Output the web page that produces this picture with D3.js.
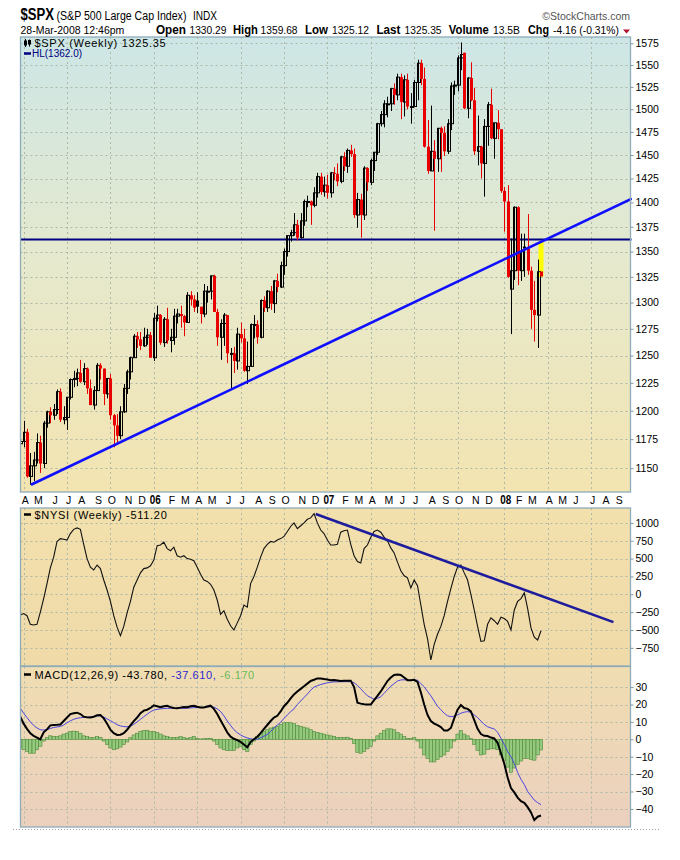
<!DOCTYPE html>
<html><head><meta charset="utf-8">
<script src="https://cdn.jsdelivr.net/npm/d3@7"></script>
<style>
body{margin:0;background:#fff}
svg{display:block;font-family:"Liberation Sans",Arial,sans-serif}
</style>
</head><body>
<svg id="c" width="680" height="860"></svg>
<script>
// ---------- DATA ----------
const firstWeek = "2005-03-28";   // weekly bars, one per week
const spxOpen = [1171,1173,1181,1143,1152,1157,1172,1154,1189,1199,
 1196,1201,1217,1192,1194,1212,1228,1229,1234,1226,
 1238,1220,1205,1218,1241,1238,1215,1229,1196,1187,
 1178,1199,1220,1235,1248,1268,1265,1259,1267,1269,
 1248,1285,1288,1262,1284,1264,1267,1287,1289,1287,
 1281,1307,1303,1302,1296,1289,1311,1311,1326,1291,
 1267,1280,1288,1252,1252,1245,1270,1266,1236,1240,
 1279,1279,1267,1302,1295,1311,1299,1321,1315,1336,
 1350,1366,1369,1377,1364,1381,1401,1401,1397,1410,
 1427,1411,1418,1410,1431,1430,1422,1448,1438,1455,
 1451,1387,1403,1387,1436,1421,1444,1453,1484,1494,
 1506,1506,1523,1516,1536,1508,1533,1503,1503,1530,
 1552,1534,1459,1433,1454,1446,1479,1474,1454,1484,
 1526,1527,1558,1564,1501,1535,1510,1454,1459,1441,
 1481,1505,1468,1485,1478,1412,1401,1313,1331,1395,
 1331,1355,1353,1331,1293,1288,1330.29];
const spxHigh = [1191,1191,1184,1163,1164,1180,1178,1191,1200,1203,
 1206,1219,1220,1204,1212,1229,1236,1238,1246,1243,
 1239,1228,1222,1243,1243,1238,1229,1233,1197,1197,
 1204,1224,1237,1249,1270,1272,1272,1276,1275,1272,
 1290,1297,1289,1286,1295,1275,1294,1294,1297,1288,
 1310,1311,1307,1310,1296,1318,1316,1326,1327,1294,
 1284,1290,1288,1257,1258,1276,1281,1275,1263,1280,
 1288,1283,1303,1306,1312,1316,1322,1328,1340,1353,
 1366,1372,1389,1382,1389,1403,1407,1402,1416,1431,
 1431,1427,1429,1432,1437,1441,1449,1453,1457,1461,
 1457,1410,1409,1438,1437,1446,1453,1485,1498,1510,
 1514,1523,1529,1540,1540,1538,1540,1518,1533,1556,
 1556,1547,1488,1504,1466,1479,1481,1481,1489,1530,
 1532,1561,1576,1564,1536,1553,1524,1493,1460,1489,
 1508,1523,1485,1499,1478,1416,1418,1363,1396,1396,
 1368,1368,1388,1335,1321,1342,1359.68];
const spxLow = [1166,1168,1142,1136,1139,1154,1146,1150,1185,1189,
 1192,1197,1190,1188,1183,1210,1221,1222,1225,1223,
 1215,1205,1201,1218,1228,1205,1211,1192,1168,1170,
 1175,1198,1215,1228,1248,1257,1255,1258,1260,1248,
 1245,1282,1260,1258,1261,1253,1260,1280,1276,1268,
 1281,1297,1291,1290,1280,1286,1300,1303,1291,1259,
 1246,1259,1243,1219,1234,1237,1262,1235,1224,1240,
 1266,1261,1266,1291,1291,1293,1290,1310,1314,1327,
 1345,1360,1366,1361,1363,1376,1395,1377,1395,1405,
 1408,1406,1404,1405,1423,1417,1420,1433,1431,1448,
 1384,1374,1364,1382,1412,1418,1433,1450,1481,1480,
 1491,1498,1505,1510,1489,1492,1500,1484,1503,1510,
 1527,1458,1430,1433,1371,1432,1432,1449,1451,1477,
 1516,1520,1544,1500,1490,1509,1450,1439,1425,1406,
 1460,1467,1446,1467,1410,1370,1324,1270,1322,1317,
 1321,1325,1327,1275,1263,1257,1325.12];
const spxClose = [1173,1181,1143,1152,1157,1172,1154,1189,1199,1196,
 1201,1217,1192,1194,1212,1228,1229,1234,1226,1238,
 1220,1205,1218,1241,1238,1215,1229,1196,1187,1178,
 1199,1220,1235,1248,1268,1265,1259,1267,1269,1248,
 1285,1288,1262,1284,1264,1267,1287,1289,1287,1281,
 1307,1303,1295,1296,1289,1311,1311,1326,1291,1267,
 1280,1288,1252,1252,1245,1270,1266,1236,1240,1279,
 1279,1267,1302,1295,1311,1299,1321,1315,1336,1350,
 1366,1369,1377,1364,1381,1401,1401,1397,1410,1427,
 1411,1418,1410,1431,1430,1422,1448,1438,1455,1451,
 1387,1403,1387,1436,1421,1444,1453,1484,1494,1506,
 1506,1523,1516,1536,1508,1533,1503,1503,1530,1552,
 1534,1459,1433,1454,1446,1479,1474,1454,1484,1526,
 1527,1558,1562,1501,1535,1510,1454,1459,1441,1481,
 1505,1468,1485,1478,1412,1401,1325,1331,1395,1331,
 1350,1353,1331,1293,1288,1330,1325.35];
const hlLevel = 1362.0;
const priceTrend = [{bar:3.2, v:1136}, {bar:183.2, v:1404}];

const nysi = [-290,-270,-300,-420,-430,-420,-250,-60,150,370,
 520,740,780,770,760,850,910,930,910,700,
 500,380,340,410,360,200,60,-100,-300,-460,
 -580,-450,-260,-100,100,200,300,360,370,400,
 480,680,690,730,640,610,660,540,520,540,
 500,490,470,380,280,200,180,140,60,-80,
 -280,-230,-350,-440,-500,-400,-300,-150,-180,150,
 250,380,520,640,700,740,730,760,780,810,
 880,950,1000,920,960,1000,1050,1070,1130,1000,
 900,850,760,690,690,700,870,890,900,700,
 540,460,440,640,690,800,880,900,870,800,
 750,650,580,450,330,260,230,90,200,120,
 -150,-420,-620,-920,-700,-560,-450,-300,-100,80,
 250,380,410,300,200,0,-220,-450,-660,-650,
 -420,-330,-370,-420,-320,-340,-380,-500,-220,-100,
 -60,20,-200,-470,-600,-640,-511.2];
const nysiTrend = [{bar:88.5, v:1125}, {bar:177.7, v:-390}];

const macdLine = [13,9,6,3.5,2,1,0,4,5.7,8,
 8.2,8.3,8.5,10.5,12.5,14.5,15,15.3,14.5,13,
 12.6,12.5,13,13.8,14,12,9,5.5,3.5,2.5,
 2.6,3.5,5.5,8,10.5,12.5,15,16.5,17,18,
 19.5,19,18.4,19,19.3,18.5,18,17.8,18.2,18.5,
 18.4,19,19.3,18.7,18.3,18.3,18.8,19.3,17.5,14.5,
 11,7.5,4,1.5,0.3,-0.5,-1.5,-3,-4.6,-1.5,
 0,1.5,3.5,6,8.2,10.5,12.5,13.5,16,19,
 21,23.5,25.8,27.5,29,30.5,32,33.5,34.2,35,
 35,34.6,34.4,34,34.1,33.8,33.5,33.6,33.7,33.7,
 30,21,20.5,20.2,20,20,22.5,25,27.5,30.5,
 33.5,35.5,37,37.2,37,35.5,34,34,34.2,33,
 27,20,14,10.5,9,8.2,7,5,5,6.5,
 12,17,19.7,18,17.5,16,11,6,3,2,
 1.9,1,0.5,-2,-8,-14,-22,-28,-30.5,-33.5,
 -35.5,-36.5,-39,-42,-46.4,-44.5,-43.78];
const macdSignal = [17.8,15,12.5,10,8,6.5,5.5,5.3,5.6,6.2,
 6.8,7.1,7.4,8.2,9.5,10.6,11.5,12.1,12.4,12.6,
 12.7,12.8,13.1,13.4,13.5,12.8,11.7,10.7,9.6,8.4,
 7.7,7.3,7.2,7.5,8.6,10,11.5,13,14.4,15.8,
 16.8,17.2,17.5,17.7,17.8,17.8,17.8,17.8,17.8,17.8,
 17.9,18,18.2,18.2,18.2,18.3,18.5,18.8,18.5,17.5,
 16,13.5,10.5,8,5.5,3.8,2.5,1.5,0.8,0.3,
 0,0,0.8,1.8,2.8,4.5,6.5,8.2,9.8,12,
 14,15.9,17.5,20,22,24,26,28.2,30,30.8,
 31.5,32,32.5,32.8,33,33,33.1,33.1,33.1,33.1,
 32.5,31,29,27,25,24,23,23.5,24.5,26.4,
 28.5,30.5,32,33.5,34.1,34.2,34,33.7,34,34,
 32,30.2,27.5,25,22,19,17,15,13.5,13,
 13.3,14,15,15.6,15.9,15.5,14,12.5,10.5,8.5,
 7.2,6.5,6,4,0.6,-3,-7,-10,-14,-19,
 -23,-26,-30,-32.5,-35,-36.4,-37.61];
const macdHist = [-5,-6,-7,-8,-8,-6,-4,-1,1,2,
 1.5,1.5,2,3,3.5,4.5,4.7,4.5,3.5,2,
 1.5,1,1,1.5,1,-1,-3,-5,-6,-5.5,
 -4.5,-3,-1.5,1,2.5,3.5,4.5,5,5.2,4.5,
 4.5,4,3,2,1.5,1,1,1,1.5,1,
 0.6,1,1.5,0.5,0.2,0.3,0.5,0.6,-1,-3,
 -5,-6,-6.5,-6.5,-6.5,-5,-4,-6,-7,-3,
 -1,1.5,3,4.5,5.5,6.5,7,7.5,8.5,9.5,
 9.6,9.5,9,8,7.5,7,6.5,5.5,4.5,4,
 3.5,3,2.5,2,1.5,1,1,1,1.2,0.6,
 -2.5,-7.5,-8,-7,-5.5,-4,-1,2,3.5,5,
 6,6,5.5,4,3,1.5,0.5,0.5,1,-1,
 -5,-9,-11,-13,-13,-11.5,-10,-9,-7,-5,
 -1,3,5,3,2,0.5,-3,-6.5,-9,-8.5,
 -6,-5.5,-5.5,-6,-9,-12,-16,-19,-16.5,-14.5,
 -12.5,-11,-11,-11.5,-12,-9,-6.17];

const priceTicks = [1150,1175,1200,1225,1250,1275,1300,1325,1350,1375,1400,1425,1450,1475,1500,1525,1550,1575];
const nysiTicks = [1000,750,500,250,0,-250,-500,-750];
const macdTicks = [30,20,10,0,-10,-20,-30,-40];
const monthLabels = ["A","M","J","J","A","S","O","N","D","06","F","M","A","M","J","J","A","S","O","N","D","07","F","M","A","M","J","J","A","S","O","N","D","08","F","M","A","M","J","J","A","S"];
// [label, value, label x, value x, label width, value width]
const headerStats = [["Open","1330.29",156,189.5,30,37],["High","1359.68",233,260.6,25,37],
  ["Low","1325.12",305,332,23,37],["Last","1325.35",376.4,404.6,24,37],
  ["Volume","13.5B",448.8,493,40,27],["Chg","-4.16 (-0.31%)",528,553,21,66]];

// ---------- LAYOUT ----------
const svg = d3.select("#c");
const defs = svg.append("defs");
function grad(id, stops){
  const g = defs.append("linearGradient").attr("id",id).attr("x1",0).attr("y1",0).attr("x2",0).attr("y2",1);
  stops.forEach(([o,c])=>g.append("stop").attr("offset",o).attr("stop-color",c));
}
grad("gMain", [[0,"#cde6e6"],[0.5,"#e6e9cd"],[1,"#f3e4b1"]]);
grad("gNysi", [[0,"#f2e0ad"],[1,"#efdaa8"]]);
grad("gMacd", [[0,"#f0ddb1"],[1,"#ebd0be"]]);

const L = 20.5, R = 630.5;
const panels = {
  main:{t:37, b:492, fill:"url(#gMain)"},
  nysi:{t:508, b:666, fill:"url(#gNysi)"},
  macd:{t:666.5, b:827, fill:"url(#gMacd)"}
};
Object.entries(panels).forEach(([k,p])=>{
  defs.append("clipPath").attr("id","clip-"+k).append("rect")
    .attr("x",L).attr("y",p.t).attr("width",R-L+1.5).attr("height",p.b-p.t);
});

const x = d3.scaleLinear().domain([0,156]).range([20.3,541]);
const yP = d3.scaleLog().domain([1150,1575]).range([468.2,43.3]);
const yN = d3.scaleLinear().domain([-1000,1000]).range([665.7,522.9]);
const yM = d3.scaleLinear().domain([-40,30]).range([808.9,687.1]);

const start = new Date(firstWeek+"T00:00:00");
const months = monthLabels.map((lab,k)=>{
  const d = new Date(2005, 3+k, 1);
  const mon = d3.timeMonday.ceil(d);
  return {lab, bar: Math.round((mon-start)/6048e5), m: d.getMonth()};
});
const quarterly = months.filter(d=>d.m%3===0);

Object.values(panels).forEach(p=>{
  svg.append("rect").attr("x",L).attr("y",p.t).attr("width",R-L).attr("height",p.b-p.t).attr("fill",p.fill);
});

const gridCol = "#aeb8a6";
function hGrid(scale, ticks){
  svg.append("g").selectAll("line").data(ticks).join("line")
    .attr("x1",L).attr("x2",R).attr("y1",d=>Math.round(scale(d))+0.5).attr("y2",d=>Math.round(scale(d))+0.5)
    .attr("stroke",gridCol).attr("stroke-width",1).attr("stroke-dasharray","2,3");
}
function vGrid(p){
  svg.append("g").selectAll("line").data(quarterly).join("line")
    .attr("x1",d=>Math.round(x(d.bar))+0.5).attr("x2",d=>Math.round(x(d.bar))+0.5)
    .attr("y1",p.t).attr("y2",p.b)
    .attr("stroke",gridCol).attr("stroke-width",1).attr("stroke-dasharray","2,3");
}
hGrid(yP, priceTicks); vGrid(panels.main);
hGrid(yN, nysiTicks); vGrid(panels.nysi);
hGrid(yM, macdTicks); vGrid(panels.macd);

// ---------- PRICE PANEL ----------
const bars = spxClose.map((c,i)=>({i, o:spxOpen[i], h:spxHigh[i], l:spxLow[i], c,
  up: c >= (i>0 ? spxClose[i-1] : spxOpen[i]), hollow: c >= spxOpen[i]}));
const gMain = svg.append("g").attr("clip-path","url(#clip-main)");
const RED = "#e80000";
gMain.append("line").attr("x1",L).attr("x2",R+1)
  .attr("y1",yP(hlLevel)).attr("y2",yP(hlLevel)).attr("stroke","#000080").attr("stroke-width",2);
const last = bars[bars.length-1];
gMain.append("rect").attr("x",x(last.i)-2.5).attr("width",5)
  .attr("y",yP(last.h)).attr("height",yP(last.l)-yP(last.h)).attr("fill","#ffff00");
gMain.append("g").selectAll("line").data(bars.slice(0,-1)).join("line")
  .attr("x1",d=>Math.round(x(d.i))+0.5).attr("x2",d=>Math.round(x(d.i))+0.5)
  .attr("y1",d=>yP(d.h)).attr("y2",d=>yP(d.l))
  .attr("stroke",d=>d.up?"#000":RED).attr("stroke-width",1);
gMain.append("g").selectAll("rect").data(bars).join("rect")
  .attr("x",d=>Math.round(x(d.i))-1)
  .attr("width",3)
  .attr("y",d=>Math.min(yP(d.o),yP(d.c)))
  .attr("height",d=>Math.max(1,Math.abs(yP(d.o)-yP(d.c))))
  .attr("fill",d=>d.hollow?"none":(d.up?"#000":RED))
  .attr("stroke",d=>d.hollow?(d.up?"#000":RED):"none")
  .attr("stroke-width",1)
  .attr("transform",d=>d.hollow?"translate(0.5,0)":null);
gMain.append("line")
  .attr("x1",x(priceTrend[0].bar)).attr("y1",yP(priceTrend[0].v))
  .attr("x2",x(priceTrend[1].bar)).attr("y2",yP(priceTrend[1].v))
  .attr("stroke","#1010ff").attr("stroke-width",2.6);

// ---------- NYSI PANEL ----------
const gN = svg.append("g").attr("clip-path","url(#clip-nysi)");
gN.append("path").datum(nysi)
  .attr("d", d3.line().x((d,i)=>x(i)).y(d=>yN(d)))
  .attr("fill","none").attr("stroke","#111").attr("stroke-width",1.1);
gN.append("line")
  .attr("x1",x(nysiTrend[0].bar)).attr("y1",yN(nysiTrend[0].v))
  .attr("x2",x(nysiTrend[1].bar)).attr("y2",yN(nysiTrend[1].v))
  .attr("stroke","#1c1c9c").attr("stroke-width",2.6);

// ---------- MACD PANEL ----------
const gM = svg.append("g").attr("clip-path","url(#clip-macd)");
gM.append("g").selectAll("rect").data(macdHist).join("rect")
  .attr("x",(d,i)=>x(i)-1.65).attr("width",3.3)
  .attr("y",d=>Math.min(yM(0),yM(d))).attr("height",d=>Math.abs(yM(d)-yM(0)))
  .attr("fill","#95c97d").attr("stroke","#4f8a3c").attr("stroke-width",0.6);
gM.append("path").datum(macdSignal)
  .attr("d", d3.line().x((d,i)=>x(i)).y(d=>yM(d)))
  .attr("fill","none").attr("stroke","#4a44e0").attr("stroke-width",1);
gM.append("path").datum(macdLine)
  .attr("d", d3.line().x((d,i)=>x(i)).y(d=>yM(d)))
  .attr("fill","none").attr("stroke","#000").attr("stroke-width",2);

Object.values(panels).forEach(p=>{
  svg.append("rect").attr("x",L).attr("y",p.t).attr("width",R-L).attr("height",p.b-p.t)
    .attr("fill","none").attr("stroke","#8eabb9").attr("stroke-width",1.3);
});

// ---------- AXES ----------
function rightAxis(scale, ticks, fmt){
  const g = svg.append("g").attr("transform",`translate(${R},0)`)
    .call(d3.axisRight(scale).tickValues(ticks).tickSize(3).tickPadding(2).tickFormat(fmt));
  g.select(".domain").remove();
  g.selectAll(".tick line").attr("stroke","#7d97a3");
  g.selectAll("text").attr("font-size",10.5).attr("fill","#000")
    .attr("font-family",'"Liberation Sans",Arial,sans-serif');
}
rightAxis(yP, priceTicks, d3.format("d"));
rightAxis(yN, nysiTicks, d3.format("d"));
rightAxis(yM, macdTicks, d3.format("d"));

// narrow text helper: scale horizontally to a target width
function fitText(t, xx, yy, size, w, bold, fill, anchorMid){
  const el = svg.append("text").attr("font-size",size)
    .attr("font-weight",bold?"bold":"normal").attr("fill",fill||"#000").text(t);
  const nat = el.node().getComputedTextLength();
  const s = Math.min(1, w/nat);
  const x0 = anchorMid ? xx - (nat*s)/2 : xx;
  el.attr("transform",`translate(${x0},${yy}) scale(${s},1)`);
  return el;
}

months.forEach(d=>{
  if (d.m===0) fitText(d.lab, x(d.bar)+1.5, 503.5, 12.5, 11, true, "#000", true);
  else svg.append("text").attr("x",x(d.bar)+1.5).attr("y",503.5).attr("text-anchor","middle")
    .attr("font-size",10.5).text(d.lab);
});

svg.append("line").attr("x1",13).attr("x2",660).attr("y1",829.5).attr("y2",829.5)
  .attr("stroke","#9aa0a6").attr("stroke-dasharray","1,2");

// ---------- HEADER ----------
fitText("$SPX", 20.5, 19.5, 16, 33.5, true);
fitText("(S&P 500 Large Cap Index)", 56.5, 19.5, 12, 130, false);
fitText("INDX", 193, 19.5, 12, 24, false);
svg.append("text").attr("x",630).attr("y",19.5).attr("text-anchor","end").attr("font-size",10.5).attr("fill","#555").text("©StockCharts.com");
fitText("28-Mar-2008 12:46pm", 20.5, 34, 11.5, 104, false);
headerStats.forEach(([k,v,kx,vx,kw,vw])=>{
  fitText(k, kx, 34, 12, kw, true);
  fitText(v, vx, 34, 11.5, vw, false);
});
svg.append("path").attr("d","M623,29.5 L630,29.5 L626.5,33.5 Z").attr("fill","#b0102a");

// ---------- LEGENDS ----------
const ic = svg.append("g").attr("stroke","#000").attr("fill","none").attr("stroke-width",1);
ic.append("line").attr("x1",25.5).attr("x2",25.5).attr("y1",39).attr("y2",47);
ic.append("rect").attr("x",24.5).attr("y",41).attr("width",2).attr("height",4);
ic.append("line").attr("x1",29.5).attr("x2",29.5).attr("y1",39.5).attr("y2",46.5);
ic.append("rect").attr("x",28.5).attr("y",40.5).attr("width",2).attr("height",3.5).attr("fill","#000");
svg.append("text").attr("x",34.5).attr("y",47).attr("font-size",11).attr("letter-spacing",0.7).text("$SPX (Weekly) 1325.35");
svg.append("line").attr("x1",24).attr("x2",31).attr("y1",53.5).attr("y2",53.5).attr("stroke","#000080").attr("stroke-width",2.5);
svg.append("text").attr("x",32).attr("y",57).attr("font-size",10).attr("fill","#000080").text("HL(1362.0)");

svg.append("line").attr("x1",24).attr("x2",31).attr("y1",514.5).attr("y2",514.5).attr("stroke","#000").attr("stroke-width",2.5);
svg.append("text").attr("x",34.5).attr("y",518.5).attr("font-size",11).attr("letter-spacing",0.7).text("$NYSI (Weekly) -511.20");

svg.append("line").attr("x1",24).attr("x2",31).attr("y1",674.5).attr("y2",674.5).attr("stroke","#000").attr("stroke-width",2.5);
const mt = svg.append("text").attr("x",34.5).attr("y",678.5).attr("font-size",11).attr("letter-spacing",0.6);
mt.append("tspan").text("MACD(12,26,9) -43.780,");
mt.append("tspan").attr("fill","#2a2ad0").text(" -37.610,");
mt.append("tspan").attr("fill","#66bb55").text(" -6.170");
</script>
</body></html>
